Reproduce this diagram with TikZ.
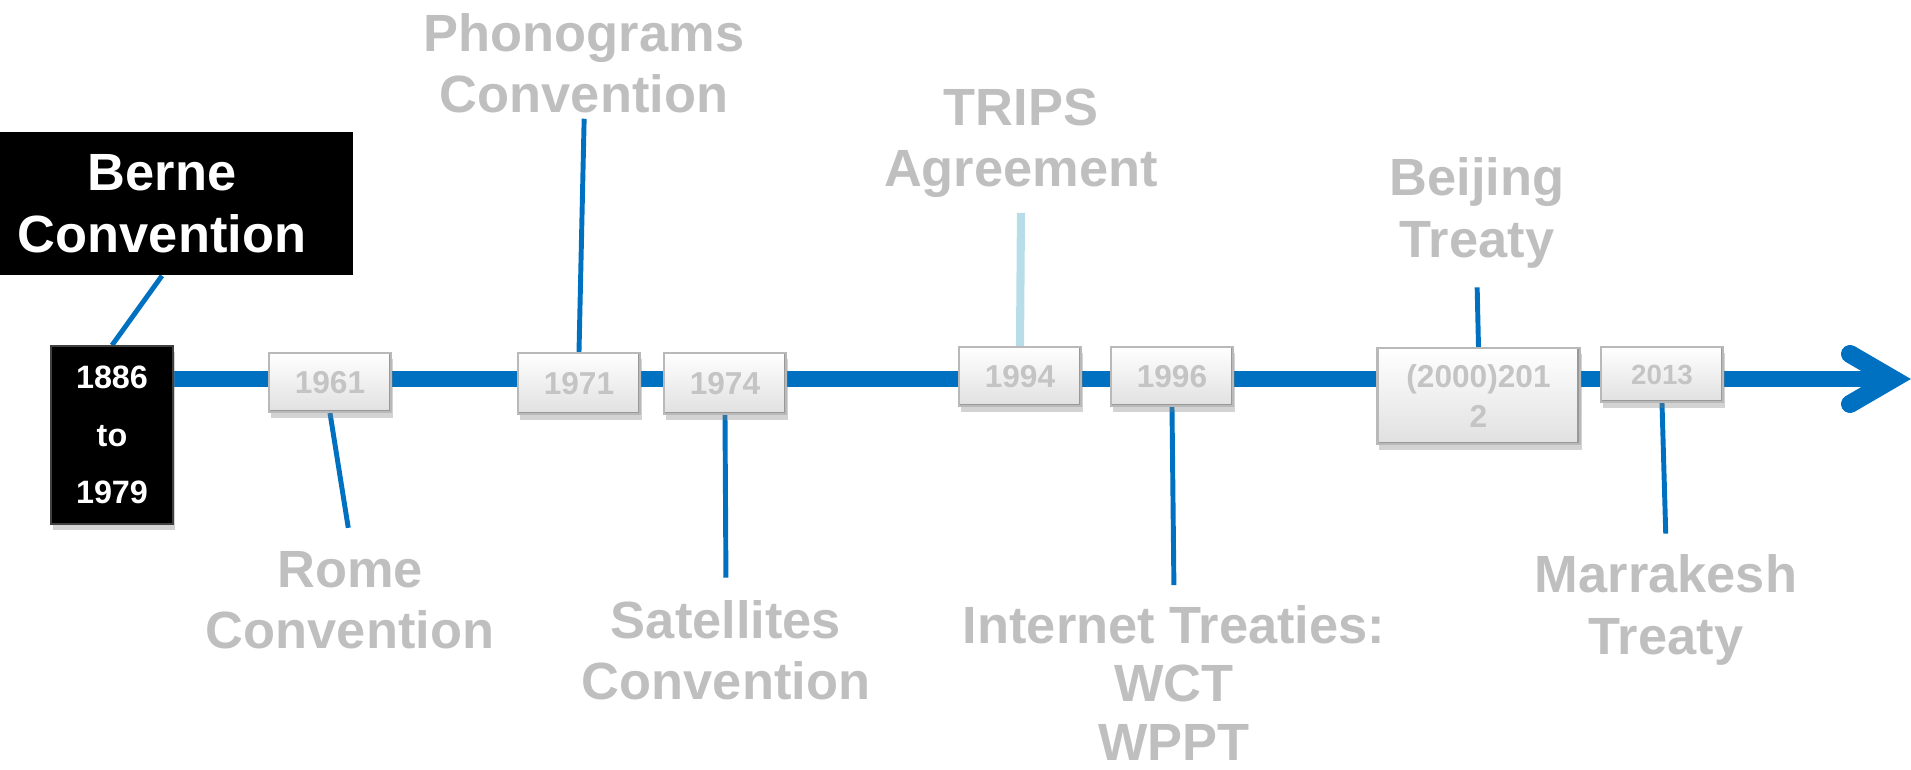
\documentclass[tikz,border=0pt]{standalone}
\usepackage{fontspec}
\setmainfont{Liberation Sans}
\usepackage{tikz}
\usetikzlibrary{positioning,calc,shadows,backgrounds}
\definecolor{axisblue}{HTML}{0070C0}
\definecolor{tripsc}{HTML}{B7DEE8}
\definecolor{labelgray}{HTML}{BFBFBF}
\definecolor{yeargray}{HTML}{C4C4C4}
\tikzset{
  yearbox/.style={rectangle, draw=gray!55, line width=0.6pt, top color=white, bottom color=gray!24,
    text=yeargray, align=center, inner sep=0pt, minimum width=1.22cm,
    font=\bfseries\fontsize{9}{10}\selectfont,
    path picture={\draw[gray!80, line width=1.3pt]
      (path picture bounding box.south west) -- (path picture bounding box.south east)
      -- (path picture bounding box.north east);},
    drop shadow={shadow xshift=0.02cm, shadow yshift=-0.06cm, opacity=0.35}},
  treaty/.style={text=labelgray, align=center, font=\bfseries\fontsize{14.9}{17.4}\selectfont},
  tick/.style={axisblue, line width=1.4pt},
  axis/.style={axisblue, line width=0.16cm},
}

\begin{document}
\begin{tikzpicture}[x=0.01cm,y=-0.01cm]
  \useasboundingbox (0,0) rectangle (1911,770);
  % first entry, in black
  \node[fill=black, text=white, align=center, minimum width=3.82cm, minimum height=1.43cm,
        font=\bfseries\fontsize{14.9}{17.6}\selectfont] (berne) at (162,203.5) {Berne\\Convention};
  \node[fill=black, draw=gray!50!black, text=white, align=center, inner sep=0pt,
        minimum width=1.22cm, minimum height=1.78cm, font=\bfseries\fontsize{9.2}{16.4}\selectfont,
        drop shadow={shadow xshift=0.02cm, shadow yshift=-0.06cm, opacity=0.35}] (d1886) at (112,435) {1886\\to\\1979};
  % year boxes on the axis
  \node[yearbox, minimum height=0.59cm] (y1961) at (330,382.5) {1961};
  \node[yearbox, minimum height=0.61cm] (y1971) at (579,383.5) {1971};
  \node[yearbox, minimum height=0.61cm] (y1974) at (725,383.5) {1974};
  \node[yearbox, minimum height=0.59cm] (y1994) at (1020,376.5) {1994};
  \node[yearbox, minimum height=0.59cm] (y1996) at (1172,376.5) {1996};
  \node[yearbox, minimum width=2.02cm, minimum height=0.96cm,
        font=\bfseries\fontsize{9}{11.4}\selectfont] (y2012) at (1478.5,396) {(2000)201\\2};
  \node[yearbox, minimum height=0.55cm, font=\bfseries\fontsize{7.9}{9}\selectfont] (y2013) at (1662,374.5) {2013};
  % treaty names
  \node[treaty] (phono) at (584,63.5) {Phonograms\\Convention};
  \node[treaty] (trips) at (1021,143) {TRIPS\\Agreement};
  \node[treaty] (beijing) at (1477,213) {Beijing\\Treaty};
  \node[treaty] (rome) at (350,600) {Rome\\Convention};
  \node[treaty] (sat) at (726,650) {Satellites\\Convention};
  \node[treaty, font=\bfseries\fontsize{14.9}{16.6}\selectfont] (inet) at (1174,683) {Internet Treaties:\\WCT\\WPPT};
  \node[treaty] (marr) at (1666,610) {Marrakesh\\Treaty};
  \coordinate (tip) at (1893,379);

  \begin{scope}[on background layer]
    \draw[axis] (d1886.east |- tip) -- (tip);
    \draw[axis, line width=0.18cm, line cap=round, miter limit=4]
      ($(tip)+(-43,-25)$) -- (tip) -- ($(tip)+(-43,25)$);
    \draw[tick] (berne.south) -- (d1886.north);
    \draw[tick, shorten >=0.11cm] (y1961.south) -- (rome.north);
    \draw[tick, shorten >=-0.07cm] (y1971.north) -- (phono.south);
    \draw[tick, shorten >=0.1cm] (y1974.south) -- (sat.north);
    \draw[tripsc, line width=2.3pt, shorten >=0.03cm] (y1994.north) -- (trips.south);
    \draw[tick, shorten >=0.08cm] (y1996.south) -- (inet.north);
    \draw[tick, shorten >=0.07cm] (y2012.north) -- (beijing.south);
    \draw[tick, shorten >=0.09cm] (y2013.south) -- (marr.north);
  \end{scope}
\end{tikzpicture}
\end{document}
